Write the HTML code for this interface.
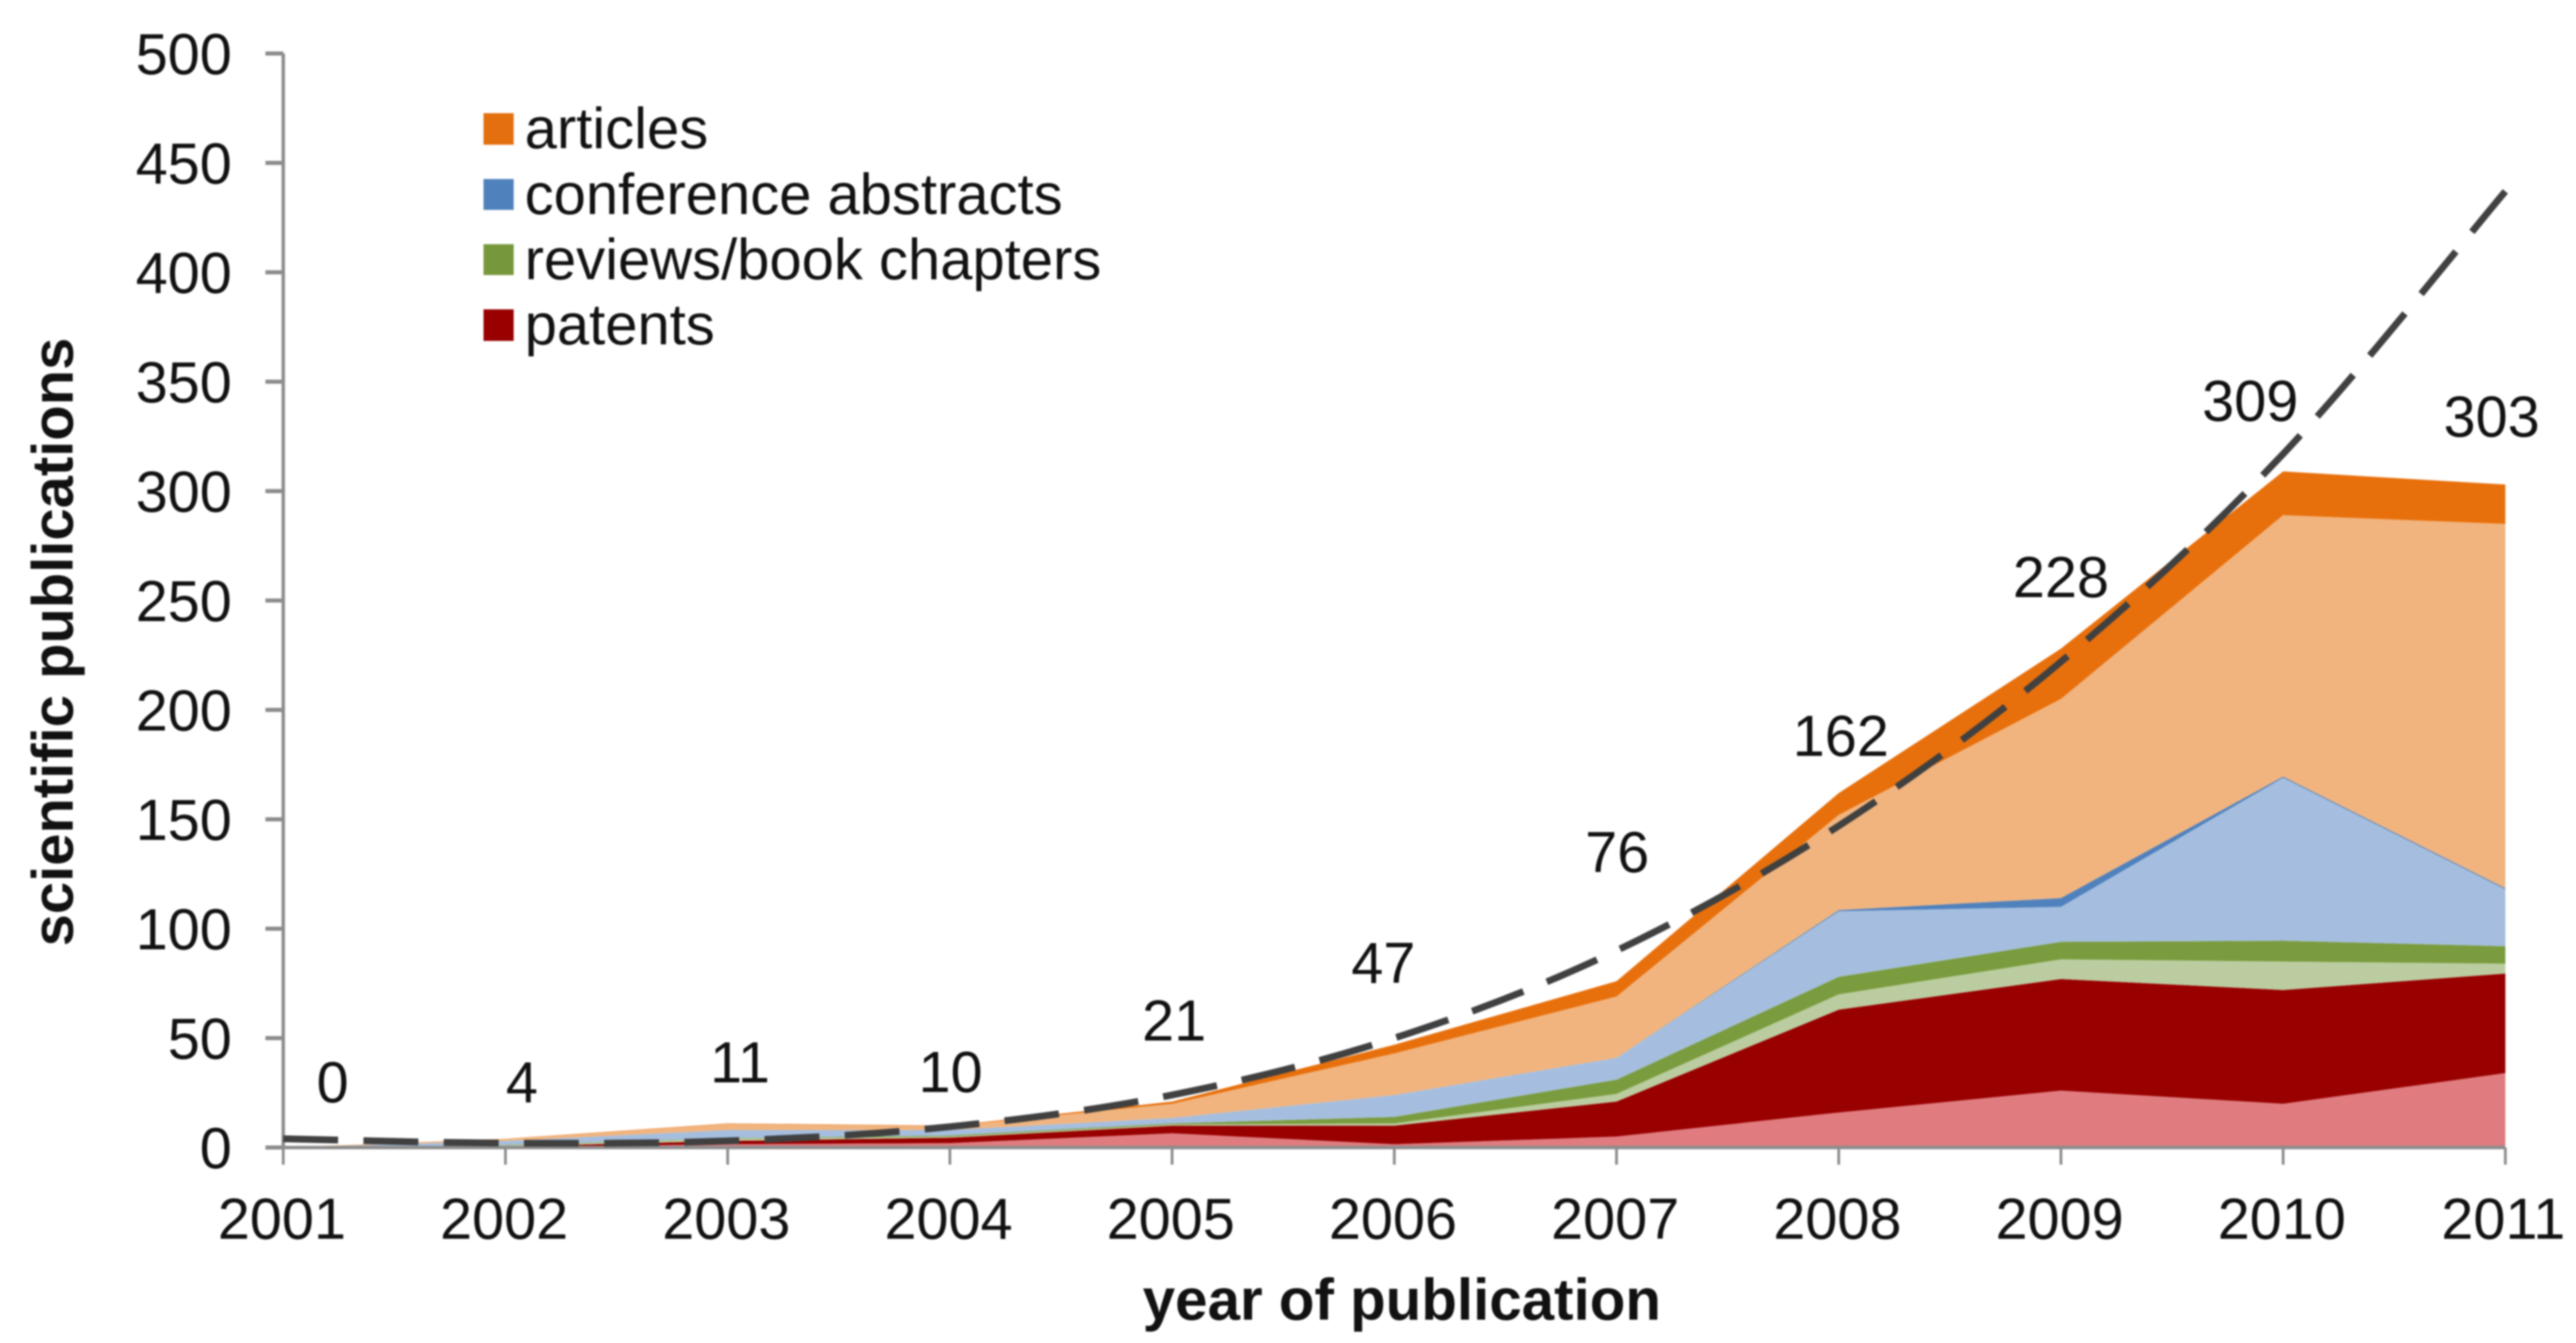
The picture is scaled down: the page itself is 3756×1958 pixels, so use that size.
<!DOCTYPE html>
<html lang="en">
<head>
<meta charset="utf-8">
<title>Scientific publications per year</title>
<style>
  html, body { margin: 0; padding: 0; background: #fff; }
  #chart { display: block; width: 3756px; height: 1958px; filter: blur(1.2px); font-family: "Liberation Sans", sans-serif; fill: #111; }
</style>
</head>
<body>
<svg id="chart" xmlns="http://www.w3.org/2000/svg" width="3756" height="1958" viewBox="0 0 3756 1958">
  <rect x="0" y="0" width="3756" height="1958" fill="#ffffff"/>
  <g id="areas"></g>
  <g id="axes"></g>
  <g id="trend"></g>
  <g id="labels" font-size="84"></g>
  <text x="2044" y="1924" font-size="85" font-weight="bold" text-anchor="middle" fill="#111">year of publication</text>
  <text transform="translate(106,936) rotate(-90)" font-size="84.5" font-weight="bold" text-anchor="middle" fill="#111">scientific publications</text>
  <g font-size="84.5">
    <rect x="705" y="165" width="44" height="46" fill="#E46F0E"/>
    <text x="765" y="216">articles</text>
    <rect x="705" y="261" width="44" height="45" fill="#4F81BD"/>
    <text x="765" y="312">conference abstracts</text>
    <rect x="705" y="356" width="44" height="45" fill="#76983A"/>
    <text x="765" y="407">reviews/book chapters</text>
    <rect x="705" y="451" width="44" height="46" fill="#990000"/>
    <text x="765" y="502">patents</text>
  </g>
</svg>
<script>
// Chart data
const years = [2001, 2002, 2003, 2004, 2005, 2006, 2007, 2008, 2009, 2010, 2011];
const yTicks = [0, 50, 100, 150, 200, 250, 300, 350, 400, 450, 500];
const patentsLight = [0, 0.2, 1.5, 2, 6.5, 1.5, 5, 16, 26, 20, 34];
const patentsDark = [0, 0.3, 1.5, 2.5, 3.5, 8.5, 16, 47, 51, 52, 45.5];
const reviewsLight = [0, 0.5, 1, 0.5, 0.5, 1, 3.5, 7, 9, 13, 4.5];
const reviewsDark = [0, 0.2, 0.2, 0.5, 0.5, 3, 6.5, 8, 8, 9.5, 8];
const abstractsLight = [0, 1.8, 3.8, 2.5, 2.5, 10, 10, 30, 16, 74.5, 26];
const abstractsDark = [0, 0, 0, 0, 0, 0, 0, 0.5, 4, 0.5, 0.5];
const articlesLight = [0, 0.9, 2.8, 1.8, 6.5, 19, 28, 43.5, 91, 119.5, 166.5];
const articlesDark = [0, 0.1, 0.2, 0.2, 1, 4, 7, 10, 23, 20, 18];
const trendValues = [4, 2, 3, 9.5, 24, 50, 90, 147, 222, 317, 437];
const printedTotals = [0, 4, 11, 10, 21, 47, 76, 162, 228, 309, 303];

const SVG_NS = 'http://www.w3.org/2000/svg';
function xScale(i) { return 413 + i * 324; }
function yScale(v) { return 1673 - v * 3.19; }
function make(tag, parent) {
  const el = document.createElementNS(SVG_NS, tag);
  parent.appendChild(el);
  return el;
}

// Stacked areas, bottom to top
const areasGroup = document.getElementById('areas');
const running = years.map(function () { return 0; });
function drawArea(values, color, name) {
  const lower = running.slice();
  values.forEach(function (v, i) { running[i] += v; });
  const upperPts = running.map(function (v, i) { return xScale(i) + ',' + yScale(v); });
  const lowerPts = lower.map(function (v, i) { return xScale(i) + ',' + yScale(v); }).reverse();
  const poly = make('polygon', areasGroup);
  poly.setAttribute('points', upperPts.concat(lowerPts).join(' '));
  poly.setAttribute('fill', color);
  
  
}
drawArea(patentsLight, '#E07C80', 'area-patents-light');
drawArea(patentsDark, '#990000', 'area-patents');
drawArea(reviewsLight, '#BBCDA0', 'area-reviews-light');
drawArea(reviewsDark, '#7A9C3E', 'area-reviews');
drawArea(abstractsLight, '#A5BEDF', 'area-conference-abstracts-light');
drawArea(abstractsDark, '#4F81BD', 'area-conference-abstracts');
drawArea(articlesLight, '#F1B47F', 'area-articles-light');
drawArea(articlesDark, '#E8700C', 'area-articles');

// Axes
const axesGroup = document.getElementById('axes');
const yAxisLine = make('line', axesGroup);
yAxisLine.setAttribute('x1', xScale(0));
yAxisLine.setAttribute('x2', xScale(0));
yAxisLine.setAttribute('y1', yScale(yTicks[yTicks.length - 1]));
yAxisLine.setAttribute('y2', yScale(0));
yAxisLine.setAttribute('stroke', '#8c8c8c');
yAxisLine.setAttribute('stroke-width', '5');



const xAxisLine = make('line', axesGroup);
xAxisLine.setAttribute('x1', 387);
xAxisLine.setAttribute('x2', xScale(years.length - 1));
xAxisLine.setAttribute('y1', yScale(0));
xAxisLine.setAttribute('y2', yScale(0));
xAxisLine.setAttribute('stroke', '#8c8c8c');
xAxisLine.setAttribute('stroke-width', '5');



yTicks.forEach(function (t) {
  const tick = make('line', axesGroup);
  tick.setAttribute('x1', 387);
  tick.setAttribute('x2', xScale(0));
  tick.setAttribute('y1', yScale(t));
  tick.setAttribute('y2', yScale(t));
  tick.setAttribute('stroke', '#8c8c8c');
  tick.setAttribute('stroke-width', '6');
  
  
  const label = make('text', axesGroup);
  label.setAttribute('x', 338);
  label.setAttribute('y', yScale(t) + 30);
  label.setAttribute('font-size', '84');
  label.setAttribute('text-anchor', 'end');
  label.textContent = t;
  
  
});

years.forEach(function (year, i) {
  const tick = make('line', axesGroup);
  tick.setAttribute('x1', xScale(i));
  tick.setAttribute('x2', xScale(i));
  tick.setAttribute('y1', yScale(0));
  tick.setAttribute('y2', yScale(0) + 25);
  tick.setAttribute('stroke', '#8c8c8c');
  tick.setAttribute('stroke-width', '4');
  
  
  const label = make('text', axesGroup);
  label.setAttribute('x', Math.min(xScale(i) - 2, 3650));
  label.setAttribute('y', 1806);
  label.setAttribute('font-size', '84');
  label.setAttribute('text-anchor', 'middle');
  label.textContent = year;
  
  
});

// Dashed trend line: smooth curve through trendValues
const trendGroup = document.getElementById('trend');
function smoothPath(values) {
  const pts = values.map(function (v, i) { return [xScale(i), yScale(v)]; });
  let d = 'M' + pts[0][0] + ' ' + pts[0][1];
  for (let i = 0; i < pts.length - 1; i++) {
    const p0 = pts[Math.max(i - 1, 0)];
    const p1 = pts[i];
    const p2 = pts[i + 1];
    const p3 = pts[Math.min(i + 2, pts.length - 1)];
    const c1x = p1[0] + (p2[0] - p0[0]) / 6;
    const c1y = p1[1] + (p2[1] - p0[1]) / 6;
    const c2x = p2[0] - (p3[0] - p1[0]) / 6;
    const c2y = p2[1] - (p3[1] - p1[1]) / 6;
    d += ' C' + c1x + ' ' + c1y + ' ' + c2x + ' ' + c2y + ' ' + p2[0] + ' ' + p2[1];
  }
  return d;
}
const trendLine = make('path', trendGroup);
trendLine.setAttribute('d', smoothPath(trendValues));
trendLine.setAttribute('fill', 'none');
trendLine.setAttribute('stroke', '#404040');
trendLine.setAttribute('stroke-width', '10');
trendLine.setAttribute('stroke-dasharray', '80 37');



// Printed totals above the stack
const labelsGroup = document.getElementById('labels');
function drawTotal(i, dx, lift) {
  const label = make('text', labelsGroup);
  label.setAttribute('x', xScale(i) + dx);
  label.setAttribute('y', yScale(printedTotals[i]) - lift);
  label.setAttribute('text-anchor', 'middle');
  label.textContent = printedTotals[i];
  
  
}
drawTotal(0, 72, 66);
drawTotal(1, 24, 53);
drawTotal(2, 18, 60);
drawTotal(3, 1, 49);
drawTotal(4, 3, 89);
drawTotal(5, -16, 90);
drawTotal(6, 1, 159);
drawTotal(7, 3, 54);
drawTotal(8, 0, 75);
drawTotal(9, -48, 74);
drawTotal(10, -20, 70);
</script>
</body>
</html>
